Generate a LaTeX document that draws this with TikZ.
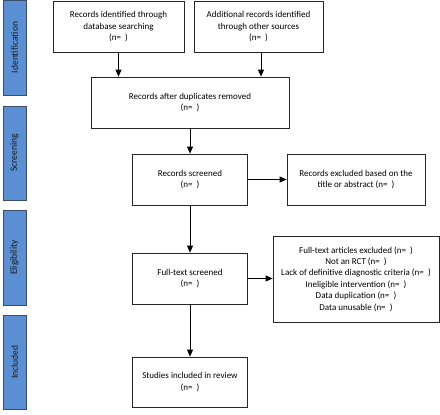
\documentclass[tikz,border=0pt]{standalone}
\usepackage{fontspec}
\setmainfont{Carlito}
\usepackage{xcolor}
\usetikzlibrary{arrows.meta}

\definecolor{phase}{HTML}{5B8FD3}
\definecolor{phaseline}{HTML}{3B4D6B}

\tikzset{
  flowbox/.style={draw=black!85, line width=0.8pt, fill=white, align=center, inner sep=1pt,
    font=\fontsize{9}{11.4}\selectfont},
  phasebox/.style={draw=phaseline, line width=0.9pt, fill=phase, rotate=90, inner sep=0pt,
    minimum height=23, font=\fontsize{9.5}{11}\selectfont, text=black!90},
  flowarrow/.style={-{Triangle[length=7pt,width=6pt]}, line width=0.8pt, black}
}

\begin{document}
\begin{tikzpicture}[x=1pt,y=1pt,yscale=-1,xscale=1]
\useasboundingbox (0,0) rectangle (440,415);
% phases
\node [phasebox, minimum width=95] (ident) at (14.5,47.5) {Identification};
\node [phasebox, minimum width=94] (screen) at (14.5,153) {Screening};
\node [phasebox, minimum width=95] (elig) at (14.5,257.5) {Eligibility};
\node [phasebox, minimum width=94] (incl) at (14.5,362) {Included};
% boxes
\node [flowbox, minimum width=131, minimum height=51] (recdb) at (118.5,26.5) {Records identified through\\database searching\\(n=~~)};
\node [flowbox, minimum width=129, minimum height=51] (recother) at (258.5,26.5) {Additional records identified\\through other sources\\(n=~~)};
\node [flowbox, minimum width=198, minimum height=51] (recdup) at (190,102.5) {Records after duplicates removed\\(n=~~)};
\node [flowbox, minimum width=115, minimum height=51] (recscr) at (190,179.5) {Records screened\\(n=~~)};
\node [flowbox, minimum width=138, minimum height=51] (recexcl) at (356,179.5) {Records excluded based on the\\title or abstract (n=~~)};
\node [flowbox, minimum width=115, minimum height=51] (fulltext) at (190,278.5) {Full-text screened\\(n=~~)};
\node [flowbox, minimum width=166, minimum height=86] (ftexcl) at (356,279) {Full-text articles excluded (n=~~)\\Not an RCT (n=~~)\\Lack of definitive diagnostic criteria (n=~~)\\Ineligible intervention (n=~~)\\Data duplication (n=~~)\\Data unusable (n=~~)};
\node [flowbox, minimum width=115, minimum height=50] (studies) at (190,382) {Studies included in review\\(n=~~)};
% arrows
\draw [flowarrow] (recdb.south) -- (recdb.south |- recdup.north);
\draw [flowarrow] ([xshift=2.5]recother.south) -- ([xshift=2.5]recother.south |- recdup.north);
\draw [flowarrow] (recdup.south) -- (recscr.north);
\draw [flowarrow] (recscr.east) -- (recexcl.west);
\draw [flowarrow] (recscr.south) -- (fulltext.north);
\draw [flowarrow] (fulltext.east) -- (ftexcl.west |- fulltext.east);
\draw [flowarrow] (fulltext.south) -- (studies.north);
\end{tikzpicture}
\end{document}
